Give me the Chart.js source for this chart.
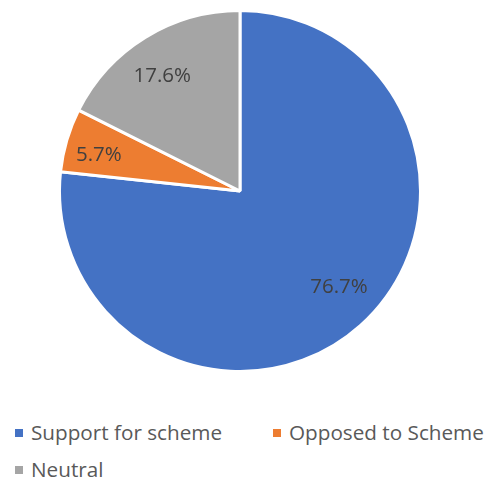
<!DOCTYPE html>
<html>
<head>
<meta charset="utf-8">
<script src="https://cdn.jsdelivr.net/npm/chart.js@4"></script>
<style>
  html, body { margin: 0; padding: 0; background: #fff; }
  #wrap { position: relative; width: 488px; height: 479px; overflow: hidden; }
  #pie { position: absolute; left: 0; top: 0; }
  .leg { position: absolute; font-family: "Open Sans", sans-serif; font-size: 20.7px; color: #595959; white-space: nowrap; line-height: 24px; }
  .leg i { display: inline-block; width: 8px; height: 8px; margin-right: 8px; vertical-align: 3px; }
</style>
</head>
<body>
<div id="wrap">
  <canvas id="pie" width="488" height="410"></canvas>
  <div id="legend"></div>
</div>
<script>
// Survey responses (percent)
const labels = ['Support for scheme', 'Opposed to Scheme', 'Neutral'];
const shares = [76.7, 5.7, 17.6];
const colors = ['#4472C4', '#ED7D31', '#A5A5A5'];
// where each label sits: part of the radius, and a small turn (degrees) off the slice middle
const labelRadius = [0.763, 0.807, 0.767];
const labelTurn = [-4, -2, -2.5];

// legend spots (left, top) for each entry
const legendSpots = [[15, 420], [273, 420], [15, 457]];

const sliceLabels = {
    id: 'sliceLabels',
    afterDatasetsDraw(chart) {
        const ctx = chart.ctx;
        const arcs = chart.getDatasetMeta(0).data;
        ctx.save();
        ctx.font = '20.5px "Open Sans", sans-serif';
        ctx.fillStyle = '#404040';
        ctx.textAlign = 'center';
        ctx.textBaseline = 'middle';
        arcs.forEach((arc, i) => {
            const mid = (arc.startAngle + arc.endAngle) / 2 + labelTurn[i] * Math.PI / 180;
            const r = arc.outerRadius * labelRadius[i];
            ctx.fillText(shares[i].toFixed(1) + '%', arc.x + Math.cos(mid) * r, arc.y + Math.sin(mid) * r);
        });
        ctx.restore();
    }
};

new Chart(document.getElementById('pie'), {
    type: 'pie',
    data: {
        labels: labels,
        datasets: [{
            data: shares,
            backgroundColor: colors,
            borderColor: '#ffffff',
            borderWidth: 3,
            hoverOffset: 0
        }]
    },
    options: {
        responsive: false,
        animation: false,
        layout: { padding: { left: 58, top: 9, right: 66, bottom: 37 } },
        plugins: {
            legend: { display: false },
            tooltip: { enabled: false }
        }
    },
    plugins: [sliceLabels]
});

const legend = document.getElementById('legend');
labels.forEach((name, i) => {
    const el = document.createElement('div');
    el.className = 'leg';
    el.style.left = legendSpots[i][0] + 'px';
    el.style.top = legendSpots[i][1] + 'px';
    el.innerHTML = '<i style="background:' + colors[i] + '"></i>' + name;
    legend.appendChild(el);
});
</script>
</body>
</html>
